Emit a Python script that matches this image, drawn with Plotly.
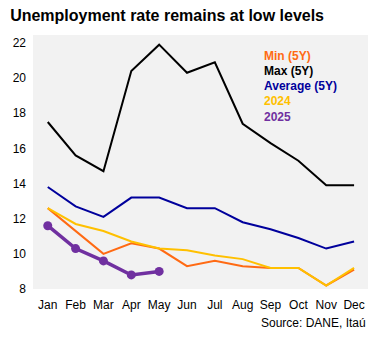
import plotly.graph_objects as go

months = ["Jan", "Feb", "Mar", "Apr", "May", "Jun", "Jul", "Aug", "Sep", "Oct", "Nov", "Dec"]
min_5y = [12.6, 11.3, 10.0, 10.6, 10.3, 9.3, 9.6, 9.3, 9.2, 9.2, 8.2, 9.1]
max_5y = [17.5, 15.6, 14.7, 20.4, 21.9, 20.3, 20.9, 17.4, 16.3, 15.3, 13.9, 13.9]
avg_5y = [13.8, 12.7, 12.1, 13.2, 13.2, 12.6, 12.6, 11.8, 11.4, 10.9, 10.3, 10.7]
y2024 = [12.6, 11.7, 11.3, 10.7, 10.3, 10.2, 9.9, 9.7, 9.2, 9.2, 8.2, 9.2]
y2025 = [11.6, 10.3, 9.6, 8.8, 9.0]
yticks = [8, 10, 12, 14, 16, 18, 20, 22]

series = [
    ("Min (5Y)", min_5y, "#FF6A13"),
    ("Max (5Y)", max_5y, "#000000"),
    ("Average (5Y)", avg_5y, "#00009C"),
    ("2024", y2024, "#FFC000"),
]

fig = go.Figure()
for name, vals, col in series:
    fig.add_trace(go.Scatter(x=months, y=vals, mode="lines", name=name,
                             line=dict(color=col, width=2)))
fig.add_trace(go.Scatter(x=months[:len(y2025)], y=y2025, mode="lines+markers", name="2025",
                         line=dict(color="#7030A0", width=3.5),
                         marker=dict(color="#7030A0", size=9)))

legend_items = [("Min (5Y)", "#FF6A13"), ("Max (5Y)", "#000000"), ("Average (5Y)", "#00009C"),
                ("2024", "#FFC000"), ("2025", "#7030A0")]
ys = [0.917, 0.858, 0.799, 0.740, 0.679]
for (txt, col), yy in zip(legend_items, ys):
    fig.add_annotation(text="<b>%s</b>" % txt, xref="paper", yref="paper", x=0.683, y=yy,
                       xanchor="left", yanchor="middle", showarrow=False,
                       font=dict(size=12, color=col, family="Liberation Sans, Arial"))

fig.add_annotation(text="Source: DANE, Itaú", xref="paper", yref="paper", x=1.0, y=-0.135,
                   xanchor="right", yanchor="middle", showarrow=False,
                   font=dict(size=12, color="#000000", family="Liberation Sans, Arial"))

fig.update_layout(
    width=375, height=337,
    margin=dict(l=33, r=7, t=35, b=48),
    paper_bgcolor="white", plot_bgcolor="#F2F2F2",
    showlegend=False,
    title=dict(text="<b>Unemployment rate remains at low levels</b>", x=0.027, xanchor="left",
               y=0.955, yanchor="middle",
               font=dict(size=16, color="#000000", family="Liberation Sans, Arial")),
    font=dict(family="Liberation Sans, Arial", size=12, color="#000000"),
    xaxis=dict(range=[-0.53, 11.5], showgrid=False, zeroline=False, showline=False,
               ticks="", ticklabelstandoff=7, tickfont=dict(size=12, color="#000000")),
    yaxis=dict(range=[8, 22.45], tickvals=yticks, showgrid=False, zeroline=False,
               showline=False, ticks="", ticklabelstandoff=6,
               tickfont=dict(size=12, color="#000000")),
)
fig.write_html("out.html")
